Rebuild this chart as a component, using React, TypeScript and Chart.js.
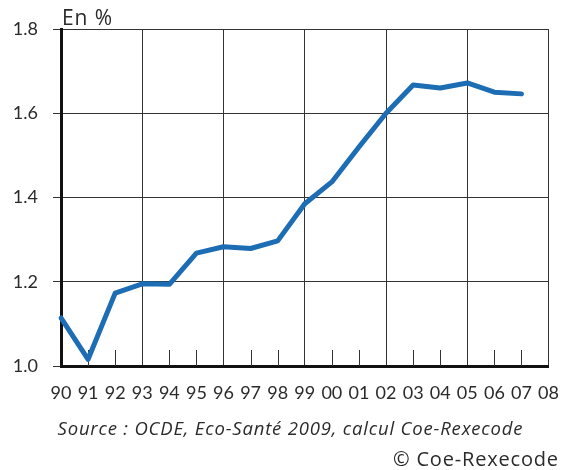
import React, { useEffect, useRef } from "react";
import { Chart, registerables } from "chart.js";

Chart.register(...registerables);

const years = ["90", "91", "92", "93", "94", "95", "96", "97", "98", "99", "00", "01", "02", "03", "04", "05", "06", "07", "08"];
const values = [1.114, 1.016, 1.173, 1.195, 1.194, 1.268, 1.283, 1.279, 1.297, 1.385, 1.437, 1.52, 1.6, 1.667, 1.66, 1.672, 1.65, 1.646];
const yMin = 1.0;
const yMax = 1.8;
const yStep = 0.2;
const unitLabel = "En %";
const sourceText = "Source : OCDE, Eco-Santé 2009, calcul Coe-Rexecode";
const copyrightText = "© Coe-Rexecode";

const FONT = "Lato, 'Noto Sans', sans-serif";
const FONT2 = "'Open Sans', 'Noto Sans', sans-serif";
const TEXT = "#2b2b2b";

function fitText(ctx: any, text: string, font: string, target: number, x: number, y: number, align: string) {
  ctx.font = font;
  ctx.letterSpacing = "0px";
  const w = ctx.measureText(text).width;
  const n = Array.from(text).length;
  const sp = n > 1 ? (target - w) / (n - 1) : 0;
  ctx.letterSpacing = `${sp.toFixed(2)}px`;
  let left = x;
  if (align === "center") left = x - target / 2;
  else if (align === "right") left = x - target;
  ctx.textAlign = "left";
  ctx.fillText(text, left, y);
  ctx.letterSpacing = "0px";
}

const extrasPlugin = {
  id: "extras",
  beforeDatasetsDraw(chart: any) {
    const { ctx, chartArea, scales } = chart;
    const x = scales.x;
    ctx.save();
    ctx.strokeStyle = "#333";
    ctx.lineWidth = 1;
    years.forEach((_, i) => {
      if (i % 3 === 0) return;
      const px = Math.round(x.getPixelForTick(i)) + 0.5;
      ctx.beginPath();
      ctx.moveTo(px, chartArea.bottom - 16);
      ctx.lineTo(px, chartArea.bottom);
      ctx.stroke();
    });
    ctx.restore();
  },
  afterDraw(chart: any) {
    const { ctx } = chart;
    ctx.save();
    ctx.fillStyle = TEXT;
    ctx.textBaseline = "alphabetic";
    fitText(ctx, unitLabel, `21px ${FONT2}`, 50, 62, 25, "left");
    fitText(ctx, sourceText, `italic 18.5px ${FONT2}`, 465, 290, 435, "center");
    fitText(ctx, copyrightText, `20px ${FONT2}`, 165, 558, 466, "right");
    ctx.restore();
  },
};

export default function App() {
  const ref = useRef<HTMLCanvasElement | null>(null);
  useEffect(() => {
    if (!ref.current) return;
    const chart = new Chart(ref.current, {
      type: "line",
      data: {
        labels: years,
        datasets: [
          {
            data: values,
            borderColor: "#1d6db5",
            borderWidth: 5,
            pointRadius: 0,
            tension: 0,
            fill: false,
            borderJoinStyle: "round",
            borderCapStyle: "round",
          },
        ],
      },
      options: {
        responsive: false,
        animation: false,
        layout: { padding: { left: 0, top: 29, right: 19, bottom: 0 } },
        plugins: { legend: { display: false }, tooltip: { enabled: false } },
        scales: {
          x: {
            type: "category",
            offset: false,
            grid: {
              color: (c: any) => (c.index % 3 === 0 ? "#333" : "rgba(0,0,0,0)"),
              lineWidth: 1,
              drawTicks: false,
            },
            border: { display: true, color: "#111", width: 3 },
            ticks: {
              color: TEXT,
              font: { family: FONT, size: 18 },
              padding: 16,
              autoSkip: false,
              maxRotation: 0,
            },
            afterFit: (s: any) => {
              s.height = 104;
            },
          },
          y: {
            min: yMin,
            max: yMax,
            grid: { color: "#333", lineWidth: 1, tickLength: 8 },
            border: { display: true, color: "#111", width: 3 },
            ticks: {
              stepSize: yStep,
              color: TEXT,
              font: { family: FONT, size: 18 },
              padding: 15,
              callback: (v: any) => Number(v).toFixed(1),
            },
            afterFit: (s: any) => {
              s.width = 61;
            },
          },
        },
      },
      plugins: [extrasPlugin],
    });
    return () => chart.destroy();
  }, []);
  return (
    <div style={{ position: "absolute", left: 0, top: 0, width: 575, height: 470 }}>
      <canvas ref={ref} width={575} height={470} />
    </div>
  );
}
